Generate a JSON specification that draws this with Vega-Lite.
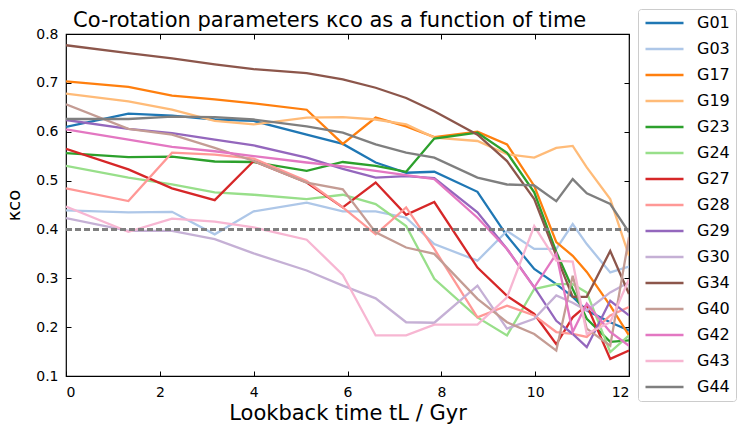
{
  "$schema": "https://vega.github.io/schema/vega-lite/v6.json",
  "autosize": "none",
  "padding": {"left": 66, "top": 34, "right": 119, "bottom": 59},
  "width": 563,
  "height": 342,
  "config": {
    "font": "DejaVu Sans",
    "view": {"stroke": "#000000", "strokeWidth": 1.2},
    "axis": {
      "domain": false, "grid": false, "tickColor": "#000000", "tickSize": -5, "tickWidth": 1,
      "labelFontSize": 14, "labelColor": "#000000", "labelPadding": 8,
      "titleFontSize": 21, "titleFontWeight": "normal", "titleColor": "#000000"
    },
    "legend": {
      "orient": "none", "legendX": 572, "legendY": -25,
      "strokeColor": "#cccccc", "fillColor": "#ffffff", "cornerRadius": 3, "padding": 6,
      "labelFontSize": 16, "labelColor": "#000000", "labelOffset": 12,
      "symbolType": "M-1,0H1", "symbolSize": 1444, "symbolStrokeWidth": 2.5,
      "clipHeight": 16, "rowPadding": 10
    }
  },
  "title": {"text": "Co-rotation parameters κco as a function of time", "fontSize": 21, "fontWeight": "normal", "anchor": "start", "frame": "group", "dx": 7, "offset": 0, "dy": 22, "color": "#000000"},
  "data": {"values": [
    {"g":"G01","t":0,"k":0.61},{"g":"G01","t":1.33,"k":0.637},{"g":"G01","t":2.26,"k":0.633},{"g":"G01","t":3.17,"k":0.625},{"g":"G01","t":4,"k":0.622},{"g":"G01","t":5.13,"k":0.594},{"g":"G01","t":5.9,"k":0.575},{"g":"G01","t":6.6,"k":0.537},{"g":"G01","t":7.25,"k":0.516},{"g":"G01","t":7.85,"k":0.518},{"g":"G01","t":8.77,"k":0.477},{"g":"G01","t":9.4,"k":0.387},{"g":"G01","t":9.98,"k":0.319},{"g":"G01","t":10.45,"k":0.288},{"g":"G01","t":10.8,"k":0.262},{"g":"G01","t":11.1,"k":0.234},{"g":"G01","t":11.6,"k":0.21},{"g":"G01","t":12,"k":0.193},
    {"g":"G03","t":0,"k":0.439},{"g":"G03","t":1.33,"k":0.435},{"g":"G03","t":2.26,"k":0.436},{"g":"G03","t":3.17,"k":0.39},{"g":"G03","t":4,"k":0.437},{"g":"G03","t":5.13,"k":0.455},{"g":"G03","t":5.9,"k":0.437},{"g":"G03","t":6.6,"k":0.437},{"g":"G03","t":7.25,"k":0.424},{"g":"G03","t":7.85,"k":0.37},{"g":"G03","t":8.77,"k":0.336},{"g":"G03","t":9.4,"k":0.397},{"g":"G03","t":9.98,"k":0.36},{"g":"G03","t":10.45,"k":0.36},{"g":"G03","t":10.8,"k":0.411},{"g":"G03","t":11.1,"k":0.37},{"g":"G03","t":11.6,"k":0.312},{"g":"G03","t":12,"k":0.324},
    {"g":"G17","t":0,"k":0.703},{"g":"G17","t":1.33,"k":0.692},{"g":"G17","t":2.26,"k":0.674},{"g":"G17","t":3.17,"k":0.666},{"g":"G17","t":4,"k":0.658},{"g":"G17","t":5.13,"k":0.645},{"g":"G17","t":5.9,"k":0.575},{"g":"G17","t":6.6,"k":0.629},{"g":"G17","t":7.25,"k":0.611},{"g":"G17","t":7.85,"k":0.589},{"g":"G17","t":8.77,"k":0.6},{"g":"G17","t":9.4,"k":0.574},{"g":"G17","t":9.98,"k":0.489},{"g":"G17","t":10.45,"k":0.374},{"g":"G17","t":10.8,"k":0.346},{"g":"G17","t":11.1,"k":0.313},{"g":"G17","t":11.6,"k":0.244},{"g":"G17","t":12,"k":0.183},
    {"g":"G19","t":0,"k":0.678},{"g":"G19","t":1.33,"k":0.662},{"g":"G19","t":2.26,"k":0.645},{"g":"G19","t":3.17,"k":0.622},{"g":"G19","t":4,"k":0.615},{"g":"G19","t":5.13,"k":0.629},{"g":"G19","t":5.9,"k":0.63},{"g":"G19","t":6.6,"k":0.625},{"g":"G19","t":7.25,"k":0.615},{"g":"G19","t":7.85,"k":0.588},{"g":"G19","t":8.77,"k":0.581},{"g":"G19","t":9.4,"k":0.554},{"g":"G19","t":9.98,"k":0.547},{"g":"G19","t":10.45,"k":0.567},{"g":"G19","t":10.8,"k":0.571},{"g":"G19","t":11.1,"k":0.527},{"g":"G19","t":11.6,"k":0.462},{"g":"G19","t":12,"k":0.346},
    {"g":"G23","t":0,"k":0.556},{"g":"G23","t":1.33,"k":0.548},{"g":"G23","t":2.26,"k":0.549},{"g":"G23","t":3.17,"k":0.539},{"g":"G23","t":4,"k":0.538},{"g":"G23","t":5.13,"k":0.52},{"g":"G23","t":5.9,"k":0.538},{"g":"G23","t":6.6,"k":0.53},{"g":"G23","t":7.25,"k":0.518},{"g":"G23","t":7.85,"k":0.586},{"g":"G23","t":8.77,"k":0.598},{"g":"G23","t":9.4,"k":0.557},{"g":"G23","t":9.98,"k":0.476},{"g":"G23","t":10.45,"k":0.354},{"g":"G23","t":10.8,"k":0.278},{"g":"G23","t":11.1,"k":0.217},{"g":"G23","t":11.6,"k":0.17},{"g":"G23","t":12,"k":0.173},
    {"g":"G24","t":0,"k":0.53},{"g":"G24","t":1.33,"k":0.506},{"g":"G24","t":2.26,"k":0.492},{"g":"G24","t":3.17,"k":0.476},{"g":"G24","t":4,"k":0.471},{"g":"G24","t":5.13,"k":0.462},{"g":"G24","t":5.9,"k":0.471},{"g":"G24","t":6.6,"k":0.452},{"g":"G24","t":7.25,"k":0.407},{"g":"G24","t":7.85,"k":0.299},{"g":"G24","t":8.77,"k":0.22},{"g":"G24","t":9.4,"k":0.183},{"g":"G24","t":9.98,"k":0.278},{"g":"G24","t":10.45,"k":0.288},{"g":"G24","t":10.8,"k":0.288},{"g":"G24","t":11.1,"k":0.271},{"g":"G24","t":11.6,"k":0.149},{"g":"G24","t":12,"k":0.183},
    {"g":"G27","t":0,"k":0.565},{"g":"G27","t":1.33,"k":0.523},{"g":"G27","t":2.26,"k":0.484},{"g":"G27","t":3.17,"k":0.46},{"g":"G27","t":4,"k":0.54},{"g":"G27","t":5.13,"k":0.496},{"g":"G27","t":5.9,"k":0.445},{"g":"G27","t":6.6,"k":0.496},{"g":"G27","t":7.25,"k":0.43},{"g":"G27","t":7.85,"k":0.456},{"g":"G27","t":8.77,"k":0.322},{"g":"G27","t":9.4,"k":0.264},{"g":"G27","t":9.98,"k":0.227},{"g":"G27","t":10.45,"k":0.165},{"g":"G27","t":10.8,"k":0.22},{"g":"G27","t":11.1,"k":0.245},{"g":"G27","t":11.6,"k":0.135},{"g":"G27","t":12,"k":0.152},
    {"g":"G28","t":0,"k":0.484},{"g":"G28","t":1.33,"k":0.458},{"g":"G28","t":2.26,"k":0.557},{"g":"G28","t":3.17,"k":0.553},{"g":"G28","t":4,"k":0.545},{"g":"G28","t":5.13,"k":0.499},{"g":"G28","t":5.9,"k":0.445},{"g":"G28","t":6.6,"k":0.39},{"g":"G28","t":7.25,"k":0.445},{"g":"G28","t":7.85,"k":0.36},{"g":"G28","t":8.77,"k":0.22},{"g":"G28","t":9.4,"k":0.244},{"g":"G28","t":9.98,"k":0.224},{"g":"G28","t":10.45,"k":0.19},{"g":"G28","t":10.8,"k":0.186},{"g":"G28","t":11.1,"k":0.18},{"g":"G28","t":11.6,"k":0.224},{"g":"G28","t":12,"k":0.241},
    {"g":"G29","t":0,"k":0.624},{"g":"G29","t":1.33,"k":0.606},{"g":"G29","t":2.26,"k":0.597},{"g":"G29","t":3.17,"k":0.584},{"g":"G29","t":4,"k":0.572},{"g":"G29","t":5.13,"k":0.547},{"g":"G29","t":5.9,"k":0.524},{"g":"G29","t":6.6,"k":0.506},{"g":"G29","t":7.25,"k":0.509},{"g":"G29","t":7.85,"k":0.505},{"g":"G29","t":8.77,"k":0.435},{"g":"G29","t":9.4,"k":0.36},{"g":"G29","t":9.98,"k":0.282},{"g":"G29","t":10.45,"k":0.213},{"g":"G29","t":10.8,"k":0.186},{"g":"G29","t":11.1,"k":0.159},{"g":"G29","t":11.6,"k":0.254},{"g":"G29","t":12,"k":0.224},
    {"g":"G30","t":0,"k":0.423},{"g":"G30","t":1.33,"k":0.397},{"g":"G30","t":2.26,"k":0.397},{"g":"G30","t":3.17,"k":0.38},{"g":"G30","t":4,"k":0.351},{"g":"G30","t":5.13,"k":0.316},{"g":"G30","t":5.9,"k":0.285},{"g":"G30","t":6.6,"k":0.259},{"g":"G30","t":7.25,"k":0.21},{"g":"G30","t":7.85,"k":0.209},{"g":"G30","t":8.77,"k":0.285},{"g":"G30","t":9.4,"k":0.197},{"g":"G30","t":9.98,"k":0.217},{"g":"G30","t":10.45,"k":0.265},{"g":"G30","t":10.8,"k":0.25},{"g":"G30","t":11.1,"k":0.234},{"g":"G30","t":11.6,"k":0.271},{"g":"G30","t":12,"k":0.292},
    {"g":"G34","t":0,"k":0.777},{"g":"G34","t":1.33,"k":0.761},{"g":"G34","t":2.26,"k":0.75},{"g":"G34","t":3.17,"k":0.738},{"g":"G34","t":4,"k":0.728},{"g":"G34","t":5.13,"k":0.72},{"g":"G34","t":5.9,"k":0.707},{"g":"G34","t":6.6,"k":0.69},{"g":"G34","t":7.25,"k":0.669},{"g":"G34","t":7.85,"k":0.642},{"g":"G34","t":8.77,"k":0.594},{"g":"G34","t":9.4,"k":0.54},{"g":"G34","t":9.98,"k":0.462},{"g":"G34","t":10.45,"k":0.346},{"g":"G34","t":10.8,"k":0.262},{"g":"G34","t":11.1,"k":0.262},{"g":"G34","t":11.6,"k":0.356},{"g":"G34","t":12,"k":0.268},
    {"g":"G40","t":0,"k":0.656},{"g":"G40","t":1.33,"k":0.606},{"g":"G40","t":2.26,"k":0.594},{"g":"G40","t":3.17,"k":0.567},{"g":"G40","t":4,"k":0.54},{"g":"G40","t":5.13,"k":0.496},{"g":"G40","t":5.9,"k":0.482},{"g":"G40","t":6.6,"k":0.394},{"g":"G40","t":7.25,"k":0.363},{"g":"G40","t":7.85,"k":0.35},{"g":"G40","t":8.77,"k":0.258},{"g":"G40","t":9.4,"k":0.21},{"g":"G40","t":9.98,"k":0.186},{"g":"G40","t":10.45,"k":0.152},{"g":"G40","t":10.8,"k":0.305},{"g":"G40","t":11.1,"k":0.197},{"g":"G40","t":11.6,"k":0.162},{"g":"G40","t":12,"k":0.384},
    {"g":"G42","t":0,"k":0.605},{"g":"G42","t":1.33,"k":0.584},{"g":"G42","t":2.26,"k":0.569},{"g":"G42","t":3.17,"k":0.56},{"g":"G42","t":4,"k":0.55},{"g":"G42","t":5.13,"k":0.537},{"g":"G42","t":5.9,"k":0.529},{"g":"G42","t":6.6,"k":0.52},{"g":"G42","t":7.25,"k":0.511},{"g":"G42","t":7.85,"k":0.503},{"g":"G42","t":8.77,"k":0.424},{"g":"G42","t":9.4,"k":0.36},{"g":"G42","t":9.98,"k":0.281},{"g":"G42","t":10.45,"k":0.35},{"g":"G42","t":10.8,"k":0.19},{"g":"G42","t":11.1,"k":0.248},{"g":"G42","t":11.6,"k":0.19},{"g":"G42","t":12,"k":0.162},
    {"g":"G43","t":0,"k":0.447},{"g":"G43","t":1.33,"k":0.395},{"g":"G43","t":2.26,"k":0.422},{"g":"G43","t":3.17,"k":0.416},{"g":"G43","t":4,"k":0.404},{"g":"G43","t":5.13,"k":0.379},{"g":"G43","t":5.9,"k":0.307},{"g":"G43","t":6.6,"k":0.183},{"g":"G43","t":7.25,"k":0.183},{"g":"G43","t":7.85,"k":0.205},{"g":"G43","t":8.77,"k":0.205},{"g":"G43","t":9.4,"k":0.261},{"g":"G43","t":9.98,"k":0.407},{"g":"G43","t":10.45,"k":0.336},{"g":"G43","t":10.8,"k":0.334},{"g":"G43","t":11.1,"k":0.186},{"g":"G43","t":11.6,"k":0.21},{"g":"G43","t":12,"k":0.298},
    {"g":"G44","t":0,"k":0.626},{"g":"G44","t":1.33,"k":0.626},{"g":"G44","t":2.26,"k":0.631},{"g":"G44","t":3.17,"k":0.63},{"g":"G44","t":4,"k":0.625},{"g":"G44","t":5.13,"k":0.611},{"g":"G44","t":5.9,"k":0.598},{"g":"G44","t":6.6,"k":0.574},{"g":"G44","t":7.25,"k":0.557},{"g":"G44","t":7.85,"k":0.547},{"g":"G44","t":8.77,"k":0.506},{"g":"G44","t":9.4,"k":0.492},{"g":"G44","t":9.98,"k":0.49},{"g":"G44","t":10.45,"k":0.458},{"g":"G44","t":10.8,"k":0.503},{"g":"G44","t":11.1,"k":0.474},{"g":"G44","t":11.6,"k":0.452},{"g":"G44","t":12,"k":0.394}
  ]},
  "layer": [
    {
      "mark": {"type": "line", "strokeWidth": 2.3, "clip": true},
      "encoding": {
        "x": {"field": "t", "type": "quantitative", "scale": {"domain": [0, 12], "nice": false},
              "axis": {"values": [0, 2, 4, 6, 8, 10, 12], "title": "Lookback time tL / Gyr", "titlePadding": 3, "labelPadding": 14}},
        "y": {"field": "k", "type": "quantitative", "scale": {"domain": [0.1, 0.8], "nice": false, "zero": false},
              "axis": {"values": [0.1, 0.2, 0.3, 0.4, 0.5, 0.6, 0.7, 0.8], "format": ".1f", "title": "κco", "titleFontSize": 18, "titlePadding": 12, "labelPadding": 13}},
        "color": {"field": "g", "type": "nominal", "title": null,
                  "scale": {"domain": ["G01","G03","G17","G19","G23","G24","G27","G28","G29","G30","G34","G40","G42","G43","G44"],
                            "range": ["#1f77b4","#aec7e8","#ff7f0e","#ffbb78","#2ca02c","#98df8a","#d62728","#ff9896","#9467bd","#c5b0d5","#8c564b","#c49c94","#e377c2","#f7b6d2","#7f7f7f"]}}
      }
    },
    {
      "mark": {"type": "rule", "color": "#808080", "strokeWidth": 1.5, "strokeDash": [6, 3]},
      "encoding": {
        "x": {"datum": 0, "type": "quantitative", "axis": {"orient": "top", "values": [0, 2, 4, 6, 8, 10, 12], "labels": false, "title": null}},
        "x2": {"datum": 12},
        "y": {"datum": 0.4, "type": "quantitative", "axis": {"orient": "right", "values": [0.1, 0.2, 0.3, 0.4, 0.5, 0.6, 0.7, 0.8], "labels": false, "title": null}}
      }
    }
  ],
  "resolve": {"axis": {"x": "independent", "y": "independent"}}
}
